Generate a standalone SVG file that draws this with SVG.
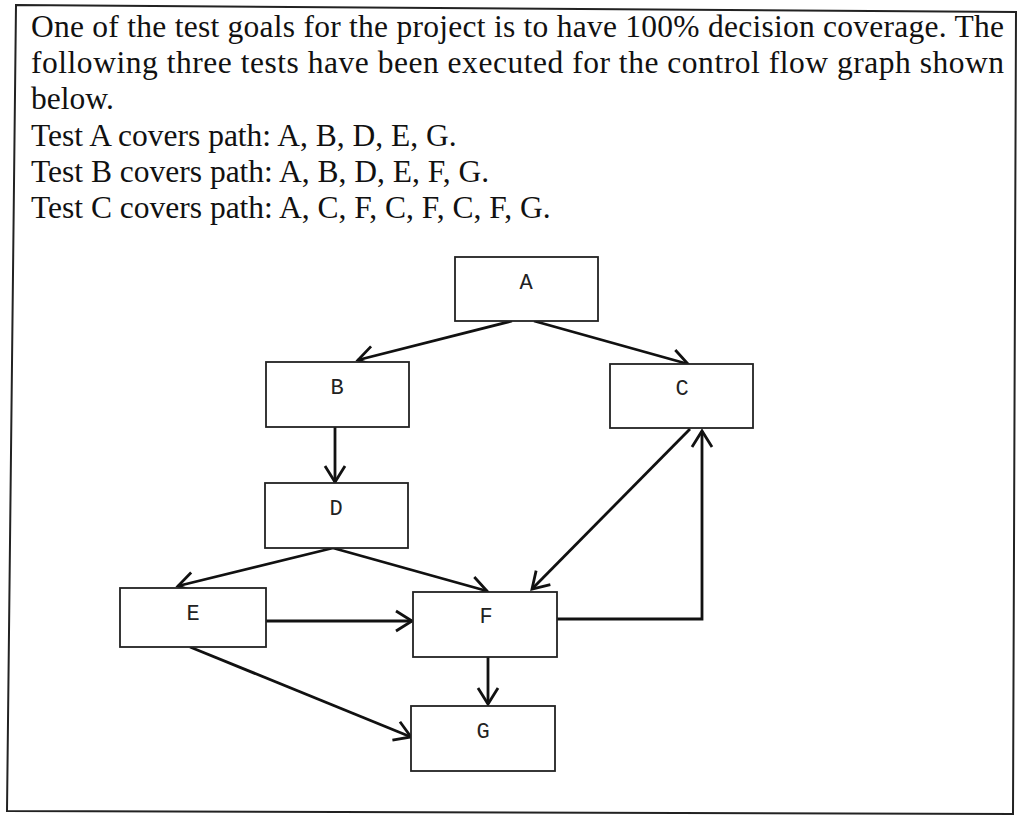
<svg xmlns="http://www.w3.org/2000/svg" width="1019" height="818" viewBox="0 0 1019 818">
<style>
.q{font-family:"Liberation Serif","Times New Roman",serif;font-size:31.5px;fill:#111}
.box{fill:#fff;stroke:#222;stroke-width:1.8}
.lbl{font-family:"Liberation Mono","Courier New",monospace;font-size:22px;fill:#222;text-anchor:middle}
.edge{fill:none;stroke:#111;stroke-width:2.8}
</style>
<defs>
<marker id="arr" markerUnits="userSpaceOnUse" markerWidth="30" markerHeight="30" viewBox="-20 -15 30 30" refX="0" refY="0" orient="auto">
<path d="M-16,-10 L0,0 L-16,10" fill="none" stroke="#111" stroke-width="2.8" stroke-linejoin="miter"/>
</marker>
</defs>
<rect width="1019" height="818" fill="#fff"/>
<polygon points="16,5 1016,12 1013,814 7,811" fill="none" stroke="#222" stroke-width="2"/>
<g id="question">
<text class="q" x="31" y="37" textLength="973" lengthAdjust="spacing">One of the test goals for the project is to have 100% decision coverage. The</text>
<text class="q" x="31" y="73" textLength="973" lengthAdjust="spacing">following three tests have been executed for the control flow graph shown</text>
<text class="q" x="31" y="109">below.</text>
<text class="q" x="31" y="146">Test A covers path: A, B, D, E, G.</text>
<text class="q" x="31" y="182">Test B covers path: A, B, D, E, F, G.</text>
<text class="q" x="31" y="218">Test C covers path: A, C, F, C, F, C, F, G.</text>
</g>
<g id="connectors">
<line class="edge" x1="512" y1="321" x2="358" y2="360" marker-end="url(#arr)"/>
<line class="edge" x1="534" y1="321" x2="688" y2="364" marker-end="url(#arr)"/>
<line class="edge" x1="335" y1="427" x2="335" y2="482" marker-end="url(#arr)"/>
<line class="edge" x1="333" y1="548" x2="178" y2="586" marker-end="url(#arr)"/>
<line class="edge" x1="333" y1="548" x2="487" y2="591" marker-end="url(#arr)"/>
<line class="edge" x1="690" y1="429" x2="532" y2="589" marker-end="url(#arr)"/>
<polyline class="edge" points="557,619 702,619 702,431" marker-end="url(#arr)"/>
<line class="edge" x1="266" y1="621" x2="412" y2="621" marker-end="url(#arr)"/>
<line class="edge" x1="190" y1="647" x2="411" y2="737" marker-end="url(#arr)"/>
<line class="edge" x1="488" y1="657" x2="488" y2="704" marker-end="url(#arr)"/>
</g>
<g id="node-A"><rect class="box" x="455" y="257" width="143" height="64"/><text class="lbl" x="526" y="289">A</text></g>
<g id="node-B"><rect class="box" x="266" y="362" width="143" height="65"/><text class="lbl" x="337" y="394">B</text></g>
<g id="node-C"><rect class="box" x="610" y="364" width="143" height="64"/><text class="lbl" x="682" y="395">C</text></g>
<g id="node-D"><rect class="box" x="265" y="483" width="143" height="65"/><text class="lbl" x="336" y="515">D</text></g>
<g id="node-E"><rect class="box" x="120" y="588" width="146" height="59"/><text class="lbl" x="193" y="620">E</text></g>
<g id="node-F"><rect class="box" x="413" y="592" width="144" height="65"/><text class="lbl" x="486" y="623">F</text></g>
<g id="node-G"><rect class="box" x="411" y="706" width="144" height="65"/><text class="lbl" x="483" y="738">G</text></g>
</svg>
